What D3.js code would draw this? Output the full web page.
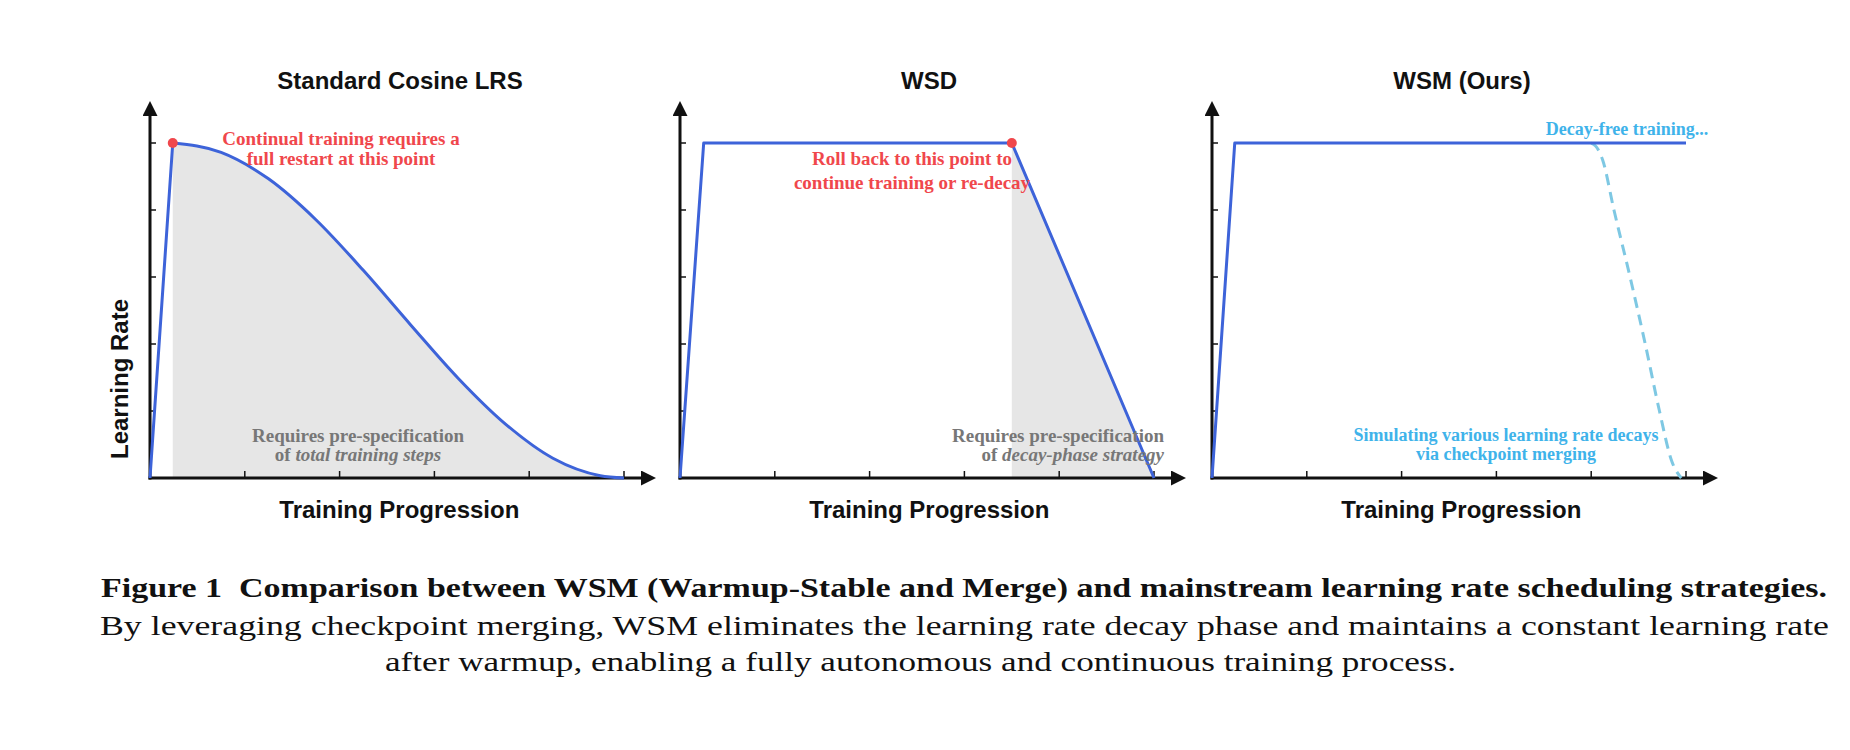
<!DOCTYPE html>
<html><head><meta charset="utf-8">
<script src="https://cdn.jsdelivr.net/npm/d3@7"></script>
<style>body{margin:0;background:#fff}</style>
</head><body>
<svg id="c" width="1850" height="750"></svg>
<script>
const titles = ["Standard Cosine LRS", "WSD", "WSM (Ours)"];
const xTicks = [1, 2, 3, 4, 5];
const yTicks = [0.2, 0.4, 0.6, 0.8, 1.0];
const warmup = [[0,0],[0.24,1]];
const cosineCurve = [[0.24,1],[0.75,0.972],[1.25,0.893],[1.75,0.771],[2.25,0.62],[2.75,0.457],[3.25,0.298],[3.75,0.161],[4.25,0.059],[4.75,0.007],[5,0]];
const wsdCurve = [[0,0],[0.25,1],[3.5,1],[5,0]];
const wsmCurve = [[0,0],[0.24,1],[5,1]];
const wsmMerge = [[4,1],[4.05,0.99],[4.12,0.95],[4.24,0.8],[4.41,0.6],[4.57,0.4],[4.72,0.2],[4.85,0.05],[4.95,0]];
const restartPoint = [0.24, 1];
const rollbackPoint = [3.5, 1];
const shadeWsd = [[3.5,1],[5,0]];

const svg = d3.select("#c");
const origins = [150, 680, 1212];
const blue = "#3d63d9", red = "#f0474c", cyan = "#3fb3ea", gray = "#777";

svg.append("defs").append("marker").attr("id","ar").attr("viewBox","0 0 10 10")
 .attr("refX",0).attr("refY",5).attr("markerWidth",5).attr("markerHeight",5).attr("orient","auto")
 .attr("markerUnits","strokeWidth")
 .append("path").attr("d","M0,0L10,5L0,10Z").attr("fill","#111");

origins.forEach((ox, i) => {
  const x = d3.scaleLinear().domain([0,5]).range([ox, ox+474]);
  const y = d3.scaleLinear().domain([0,1]).range([478, 143]);
  const g = svg.append("g");
  const line = d3.line().x(d=>x(d[0])).y(d=>y(d[1]));
  const area = d3.area().x(d=>x(d[0])).y0(y(0)).y1(d=>y(d[1]));
  if (i===0) g.append("path").attr("d", area.curve(d3.curveMonotoneX)(cosineCurve)).attr("fill","#e6e6e6");
  if (i===1) g.append("path").attr("d", area.curve(d3.curveLinear)(shadeWsd)).attr("fill","#e6e6e6");
  g.selectAll(".yt").data(yTicks).enter().append("line")
   .attr("x1",x(0)).attr("x2",x(0)+6).attr("y1",d=>y(d)).attr("y2",d=>y(d)).attr("stroke","#111").attr("stroke-width",1.5);
  g.selectAll(".xt").data(xTicks).enter().append("line")
   .attr("x1",d=>x(d)).attr("x2",d=>x(d)).attr("y1",y(0)).attr("y2",y(0)-7).attr("stroke","#111").attr("stroke-width",1.5);
  g.append("line").attr("x1",x(0)).attr("x2",x(0)).attr("y1",y(0)+1.5).attr("y2",116).attr("stroke","#111").attr("stroke-width",3).attr("marker-end","url(#ar)");
  g.append("line").attr("x1",x(0)-1.5).attr("x2",x(5)+17).attr("y1",y(0)).attr("y2",y(0)).attr("stroke","#111").attr("stroke-width",3).attr("marker-end","url(#ar)");
  if (i===2) g.append("path").attr("d", d3.line().x(d=>x(d[0])).y(d=>y(d[1])).curve(d3.curveMonotoneX)(wsmMerge))
     .attr("fill","none").attr("stroke","#7ec8e3").attr("stroke-width",3).attr("stroke-dasharray","11,7");
  let dstr;
  if (i===0) dstr = line.curve(d3.curveLinear)(warmup) + d3.line().x(d=>x(d[0])).y(d=>y(d[1])).curve(d3.curveMonotoneX)(cosineCurve).replace(/^M/,"L");
  else dstr = line.curve(d3.curveLinear)([wsdCurve, wsmCurve][i-1]);
  g.append("path").attr("d", dstr)
   .attr("fill","none").attr("stroke",blue).attr("stroke-width",3).attr("stroke-linejoin","round");
  if (i===0) g.append("circle").attr("cx",x(restartPoint[0])).attr("cy",y(restartPoint[1])).attr("r",5).attr("fill",red);
  if (i===1) g.append("circle").attr("cx",x(rollbackPoint[0])).attr("cy",y(rollbackPoint[1])).attr("r",5).attr("fill",red);
  g.append("text").attr("x",[400,929,1462][i]).attr("y",89).attr("text-anchor","middle")
   .attr("font-family","Liberation Sans, Arial").attr("font-weight","bold").attr("font-size",24).attr("fill","#111").text(titles[i]);
  g.append("text").attr("x",x(2.63)).attr("y",518).attr("text-anchor","middle")
   .attr("font-family","Liberation Sans, Arial").attr("font-weight","bold").attr("font-size",24).attr("fill","#111").text("Training Progression");
});

svg.append("text").attr("transform","translate(128,379) rotate(-90)").attr("text-anchor","middle")
 .attr("font-family","Liberation Sans, Arial").attr("font-weight","bold").attr("font-size",24).attr("fill","#111").text("Learning Rate");

function note(lines, xx, yy, dy, color, anchor, fs){
  const t = svg.append("text").attr("font-family","Liberation Serif, Times New Roman").attr("font-weight","bold")
   .attr("font-size",fs||18).attr("fill",color).attr("text-anchor",anchor||"middle");
  lines.forEach((l,k)=>{
    const ts = t.append("tspan").attr("x",xx).attr("y",yy+k*dy);
    l.forEach(seg=>ts.append("tspan").attr("font-style",seg[1]?"italic":null).text(seg[0]));
  });
}
note([[["Continual training requires a"]],[["full restart at this point"]]], 341, 145, 20, red, "middle", 19);
note([[["Requires pre-specification"]],[["of "],["total training steps",1]]], 358, 442, 19, gray, "middle", 19);
note([[["Roll back to this point to"]],[["continue training or re-decay"]]], 912, 165, 24, red, "middle", 19);
note([[["Requires pre-specification"]],[["of "],["decay-phase strategy",1]]], 1164, 442, 19, gray, "end", 19);
note([[["Decay-free training..."]]], 1627, 135, 19, cyan, "middle", 18);
note([[["Simulating various learning rate decays"]],[["via checkpoint merging"]]], 1506, 441, 19, cyan, "middle", 18);

const cap = svg.append("g").attr("font-family","Liberation Serif, Times New Roman").attr("font-size",28).attr("fill","#111");
cap.append("text").attr("x",101).attr("y",597).attr("font-weight","bold").attr("textLength",1726).attr("lengthAdjust","spacingAndGlyphs")
 .text("Figure 1\u2002Comparison between WSM (Warmup-Stable and Merge) and mainstream learning rate scheduling strategies.");
cap.append("text").attr("x",100).attr("y",635).attr("textLength",1729).attr("lengthAdjust","spacingAndGlyphs")
 .text("By leveraging checkpoint merging, WSM eliminates the learning rate decay phase and maintains a constant learning rate");
cap.append("text").attr("x",385).attr("y",671).attr("textLength",1071).attr("lengthAdjust","spacingAndGlyphs")
 .text("after warmup, enabling a fully autonomous and continuous training process.");
</script>
</body></html>
